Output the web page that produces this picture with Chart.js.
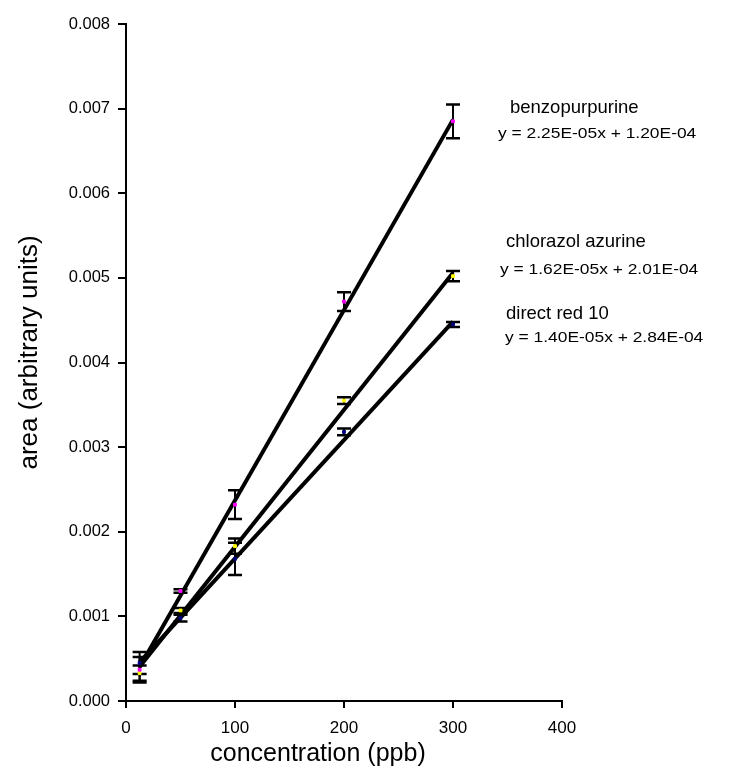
<!DOCTYPE html>
<html>
<head>
<meta charset="utf-8">
<script src="https://cdn.jsdelivr.net/npm/chart.js@4.4.1/dist/chart.umd.min.js"></script>
<style>
  html, body { margin:0; padding:0; background:#fff; }
  #wrap { width:730px; height:776px; }
</style>
</head>
<body>
<div id="wrap"><canvas id="cal"></canvas></div>
<script>
// concentrations (ppb)
const conc = [12.5, 50, 100, 200, 300];

// measured areas + error bar half-widths
const benzo     = [0.00037, 0.00130, 0.00232, 0.00472, 0.00685];
const benzoErr  = [0.00015, 0.00002, 0.00017, 0.00011, 0.00020];
const chloro    = [0.00033, 0.00107, 0.00183, 0.00355, 0.00502];
const chloroErr = [0.00009, 0.00003, 0.00009, 0.00004, 0.00006];
const red       = [0.00045, 0.00098, 0.00168, 0.00318, 0.00445];
const redErr    = [0.00013, 0.00004, 0.00019, 0.00004, 0.00003];

// trend line end points (x = 12.5 and x = 300)
const trendX      = [12.5, 300];
const benzoTrend  = [0.000401, 0.00687];
const chloroTrend = [0.000404, 0.005061];
const redTrend    = [0.000459, 0.004484];

const names = ["benzopurpurine", "chlorazol azurine", "direct red 10"];
const equations = [
  "y = 2.25E-05x + 1.20E-04",
  "y = 1.62E-05x + 2.01E-04",
  "y = 1.40E-05x + 2.84E-04"
];

const yTicks = [0, 0.001, 0.002, 0.003, 0.004, 0.005, 0.006, 0.007, 0.008];
const xTicks = [0, 100, 200, 300, 400];

const FONT = "'Liberation Sans', Arial, sans-serif";

function pts(xs, ys) {
  return xs.map((x, i) => ({ x: x, y: ys[i] }));
}

/* error bars, drawn under the markers */
const errorBars = {
  id: "errorBars",
  beforeDatasetsDraw(chart) {
    const ctx = chart.ctx;
    const xs = chart.scales.x, ys = chart.scales.y;
    const sets = [[benzo, benzoErr], [chloro, chloroErr], [red, redErr]];
    ctx.save();
    ctx.strokeStyle = "#000";
    sets.forEach(([vals, errs]) => {
      vals.forEach((v, i) => {
        const px = xs.getPixelForValue(conc[i]);
        const top = ys.getPixelForValue(v + errs[i]);
        const bot = ys.getPixelForValue(v - errs[i]);
        ctx.lineWidth = 2;
        ctx.beginPath();
        ctx.moveTo(px, top); ctx.lineTo(px, bot);
        ctx.stroke();
        ctx.lineWidth = 2.5;
        ctx.beginPath();
        ctx.moveTo(px - 7, top); ctx.lineTo(px + 7, top);
        ctx.moveTo(px - 7, bot); ctx.lineTo(px + 7, bot);
        ctx.stroke();
      });
    });
    ctx.restore();
  }
};

/* axis titles and the equation labels */
const labels = {
  id: "labels",
  afterDraw(chart) {
    const ctx = chart.ctx;
    const a = chart.chartArea;
    ctx.save();
    ctx.fillStyle = "#000";
    ctx.textBaseline = "middle";
    ctx.textAlign = "center";
    ctx.font = "25px " + FONT;
    ctx.fillText("concentration (ppb)", 318, 754);
    ctx.save();
    ctx.translate(30, (a.top + a.bottom) / 2 - 10);
    ctx.rotate(-Math.PI / 2);
    ctx.font = "26px " + FONT;
    ctx.fillText("area (arbitrary units)", 0, 0);
    ctx.restore();

    ctx.textAlign = "left";
    const nameXY = [[510, 108], [506, 242], [506, 314]];
    const eqXY = [[498, 134], [500, 270], [505, 338]];
    names.forEach((n, i) => {
      ctx.font = "18.5px " + FONT;
      ctx.fillText(n, nameXY[i][0], nameXY[i][1]);
      ctx.save();
      ctx.translate(eqXY[i][0], eqXY[i][1]);
      ctx.scale(1.16, 1);
      ctx.font = "15px " + FONT;
      ctx.fillText(equations[i], 0, 0);
      ctx.restore();
    });
    ctx.restore();
  }
};

const trendStyle = {
  type: "line",
  borderColor: "#000",
  borderWidth: 4,
  pointRadius: 0,
  fill: false,
  order: 2
};
const markStyle = (c) => ({
  type: "scatter",
  backgroundColor: c,
  borderColor: c,
  pointStyle: "rect",
  pointRadius: 2,
  order: 1
});

new Chart(document.getElementById("cal"), {
  data: {
    datasets: [
      Object.assign({ label: "benzopurpurine", data: pts(conc, benzo) }, markStyle("#ff00ff")),
      Object.assign({ label: "chlorazol azurine", data: pts(conc, chloro) }, markStyle("#ffff00")),
      Object.assign({ label: "direct red 10", data: pts(conc, red) }, markStyle("#000080")),
      Object.assign({ label: "fit 1", data: pts(trendX, benzoTrend) }, trendStyle),
      Object.assign({ label: "fit 2", data: pts(trendX, chloroTrend) }, trendStyle),
      Object.assign({ label: "fit 3", data: pts(trendX, redTrend) }, trendStyle)
    ]
  },
  options: {
    responsive: true,
    maintainAspectRatio: false,
    animation: false,
    layout: { padding: { left: 0, right: 168, top: 24, bottom: 0 } },
    plugins: { legend: { display: false }, tooltip: { enabled: false } },
    scales: {
      x: {
        type: "linear",
        min: 0, max: 400,
        afterBuildTicks: (s) => { s.ticks = xTicks.map(v => ({ value: v })); },
        afterFit: (s) => { s.height = 75; },
        border: { color: "#000", width: 2 },
        grid: { drawOnChartArea: false, drawTicks: true, tickLength: 7, color: "#000", lineWidth: 2 },
        ticks: { color: "#000", font: { family: FONT, size: 17 }, padding: 10, maxRotation: 0 }
      },
      y: {
        type: "linear",
        min: 0, max: 0.008,
        afterBuildTicks: (s) => { s.ticks = yTicks.map(v => ({ value: v })); },
        afterFit: (s) => { s.width = 126; },
        border: { color: "#000", width: 2 },
        grid: { drawOnChartArea: false, drawTicks: true, tickLength: 8, color: "#000", lineWidth: 2 },
        ticks: {
          color: "#000", font: { family: FONT, size: 16.5 }, padding: 8,
          callback: (v) => v.toFixed(3)
        }
      }
    }
  },
  plugins: [errorBars, labels]
});
</script>
</body>
</html>
